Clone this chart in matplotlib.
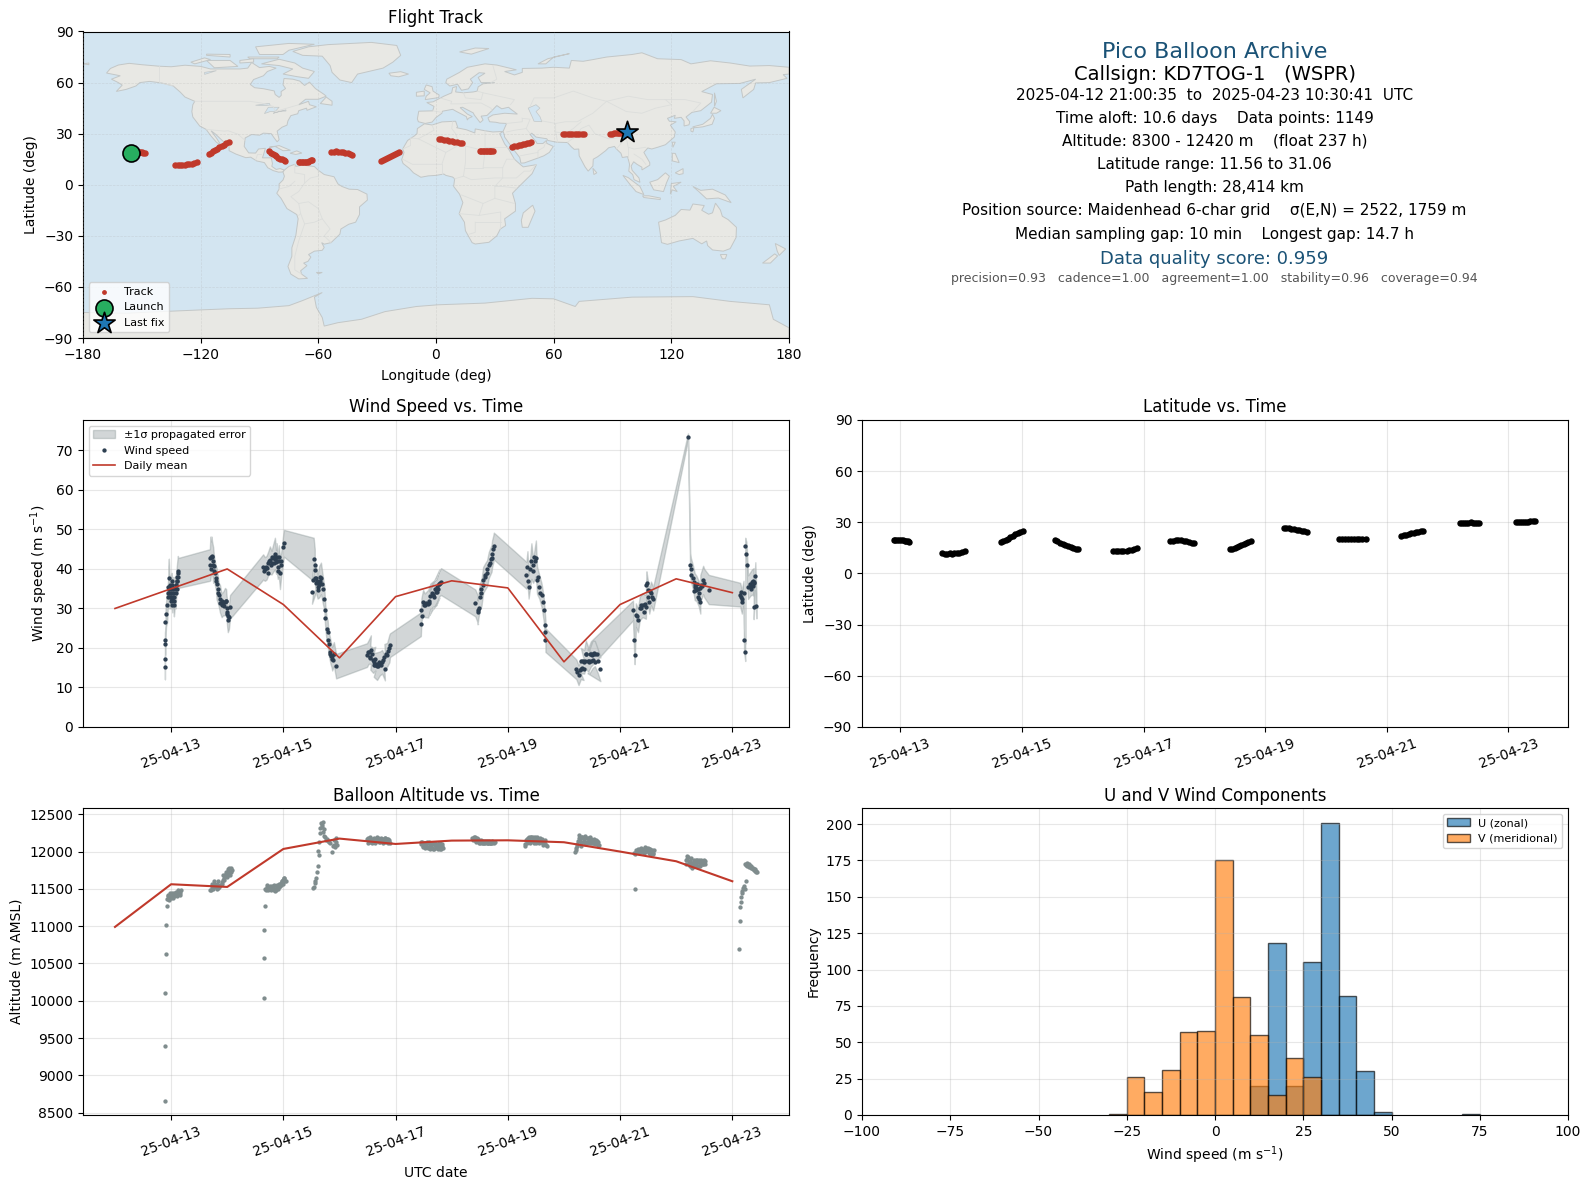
import datetime
import numpy as np
import matplotlib
matplotlib.use("Agg")
import matplotlib.pyplot as plt
import matplotlib.dates as mdates

# day-of-April (decimal) for every series
mean_days = [12, 13, 14, 15, 16, 17, 18, 19, 20, 21, 22, 23]
wind_mean = [30, 35, 40, 31, 17.5, 33, 37, 35.2, 16.5, 31, 37.5, 34]
alt_mean = [10990, 11562, 11526, 12035, 12174, 12102, 12147, 12151, 12125, 12000, 11870, 11602]

wind_t = [12.89, 12.89, 12.89, 12.90, 12.90, 12.91, 12.93, 12.94, 12.95, 12.95, 12.96, 12.97, 12.97, 12.98, 12.99,
          13.00, 13.00, 13.01, 13.02, 13.03, 13.04, 13.05, 13.06, 13.07, 13.08, 13.09, 13.10, 13.11, 13.12, 13.13,
          13.69, 13.70, 13.71, 13.72, 13.73, 13.75, 13.76, 13.78, 13.80, 13.81, 13.83, 13.85, 13.87, 13.90, 13.93,
          13.96, 13.98, 13.99, 14.00, 14.01, 14.03, 14.05,
          14.64, 14.67, 14.70, 14.73, 14.76, 14.79, 14.82, 14.85, 14.87, 14.88, 14.90, 14.92, 14.94, 14.96, 15.00, 15.01,
          15.54, 15.56, 15.56, 15.57, 15.53, 15.51, 15.58, 15.61, 15.64, 15.67, 15.70, 15.73, 15.74, 15.75, 15.77, 15.79,
          15.80, 15.81, 15.84, 15.86, 15.87, 15.90, 15.94,
          16.49, 16.52, 16.56, 16.55, 16.60, 16.64, 16.61, 16.67, 16.72, 16.76, 16.81, 16.80, 16.85, 16.89, 16.90,
          17.45, 17.46, 17.49, 17.52, 17.58, 17.62, 17.67, 17.73, 17.78, 17.60, 17.66, 17.72, 17.78, 17.81,
          18.42, 18.47, 18.46, 18.50, 18.53, 18.56, 18.59, 18.63, 18.66, 18.71, 18.72, 18.74, 18.75,
          19.33, 19.35, 19.37, 19.42, 19.45, 19.50, 19.52, 19.56, 19.60, 19.62, 19.64, 19.66, 19.67, 19.67,
          20.22, 20.26, 20.30, 20.35, 20.30, 20.36, 20.39, 20.45, 20.51, 20.55, 20.60, 20.65, 20.42, 20.48,
          21.23, 21.25, 21.26, 21.28, 21.32, 21.35, 21.40, 21.46, 21.47, 21.49, 21.52, 21.55, 21.59,
          22.21, 22.25, 22.26, 22.30, 22.33, 22.36, 22.40, 22.43, 22.43, 22.48, 22.50, 22.58,
          23.14, 23.17, 23.20, 23.21, 23.23, 23.23, 23.25, 23.26, 23.28, 23.32, 23.35, 23.38, 23.38, 23.41, 23.43]
wind_v = [15.1, 17.3, 20.9, 22, 26.5, 28.5, 31, 33, 34, 35.5, 37.6, 35.5, 34, 33, 35,
          33, 34, 36, 32.5, 33, 34, 31, 33, 35, 34, 36, 37, 38, 39.5, 39,
          41, 42.7, 43, 43.2, 43, 41, 40.8, 38.9, 37.6, 36.3, 35, 33.4, 32.5, 30.8, 31.3,
          31.7, 31.9, 30, 28.7, 27, 27.8, 30.4,
          40.5, 40, 40.3, 41.4, 42.2, 41.6, 42.8, 43.9, 41.8, 43, 40.5, 42, 38.9, 41, 45.6, 46.5,
          42.4, 41, 39.7, 37.8, 37.2, 34.2, 37.6, 35.5, 36.8, 37.6, 35, 32.5, 29.6, 27.5, 24.9, 24,
          22, 21.1, 19, 17.9, 17.3, 18.5, 15.4,
          18.2, 19, 19.6, 17.5, 16.9, 17.3, 15.7, 15.4, 16.1, 16.5, 14.8, 17.8, 18.3, 19.9, 20.7,
          26, 29.6, 31.7, 30.8, 31.2, 33.1, 33.4, 34.2, 36.3, 31.3, 33.4, 34.2, 36.3, 36.8,
          31.4, 29.6, 29, 33, 34, 37.2, 38, 38.9, 41, 42.7, 43.9, 45, 45.8,
          38.4, 40.5, 35.5, 42, 39.5, 42.7, 37.2, 35.5, 33.4, 31.7, 29.7, 25.8, 24.1, 22,
          14.6, 13.1, 14.6, 14.6, 16.8, 16.5, 18.4, 16.5, 18.4, 18.6, 16.8, 14.6, 16.6, 18.5,
          29.5, 22, 18.1, 28.3, 27, 30, 30.8, 30.4, 35.9, 34.6, 31.7, 33.8, 32.5,
          73.5, 41, 39.9, 37.8, 35.5, 35.1, 33.8, 31.7, 35.1, 37.2, 36.4, 34.8,
          33.5, 31.7, 33.8, 22, 18.9, 45.7, 43.9, 40.9, 35.4, 36.2, 36.7, 36.7, 30.3, 38.2, 30.7]
wind_e = [3, 3.5, 3, 3.5, 4, 3, 4.5, 3, 4, 5, 5, 3, 4, 3, 3.5,
          3, 4, 3, 3.5, 3, 4, 3, 3.5, 3, 4, 3, 3.5, 4, 3.8, 3.8,
          4, 5.5, 4, 5, 4, 4.5, 3, 3, 3, 4, 3.5, 3, 3.5, 3, 3,
          3.5, 3, 3, 3.5, 3, 3, 3,
          3.2, 3, 3, 3, 3.5, 3, 3.5, 4, 3, 3.5, 3, 4, 4, 3, 3.4, 3.4,
          5.5, 4, 3, 3, 3, 3, 3.5, 3, 4, 4, 3.5, 3, 3, 3, 3, 3,
          3, 3, 3, 2.8, 3, 3, 3.1,
          3, 3, 3.6, 3, 3.2, 3, 3, 3.5, 3, 3, 3, 3.2, 3, 3.5, 3,
          3, 3, 3, 3, 3.5, 3.2, 3.5, 3.2, 3.6, 3, 3, 3.5, 3.2, 3.4,
          3.4, 3.5, 3, 3.2, 3.4, 3.3, 3.3, 3.3, 3.3, 3.4, 3.4, 3.4, 3.4,
          3.4, 4, 3, 4.5, 3, 4.5, 3.5, 3, 3, 3, 3, 3, 3, 3,
          2.5, 2.5, 2.5, 2.7, 3.2, 3, 3.5, 3, 3.5, 3.2, 3, 3,
          3, 3.2,
          2.5, 3, 2.2, 3, 3, 3, 3, 3, 3.5, 3, 3, 3, 3,
          0.8, 3, 3, 3, 3.4, 3.2, 3.2, 3, 3.4, 3.6, 3.6, 3.7,
          3, 3, 3.2, 3, 2.2, 2.2, 3, 4, 3, 3, 3.2, 3.5, 3, 3.5, 3.2]
# further wind readings inside the dense clusters (dots only)
wind_more_t = [12.96, 12.98, 13.00, 13.01, 13.02, 13.04, 13.06, 13.08, 13.10, 13.11, 13.12,
               13.71, 13.74, 13.77, 13.80, 13.84, 13.88, 13.91, 13.94, 13.97, 14.00, 14.02,
               14.66, 14.69, 14.72, 14.75, 14.78, 14.80, 14.83, 14.84, 14.86, 14.89, 14.91, 14.93, 14.95,
               15.59, 15.60, 15.62, 15.63, 15.65, 15.66, 15.68, 15.83, 15.85, 15.88,
               16.50, 16.54, 16.58, 16.62, 16.63, 16.66, 16.69, 16.71, 16.74, 16.78, 16.83, 16.87,
               17.47, 17.50, 17.55, 17.60, 17.64, 17.68, 17.70, 17.74, 17.76, 17.80,
               18.48, 18.52, 18.55, 18.60, 18.62, 18.68, 18.70,
               19.36, 19.40, 19.44, 19.46, 19.48, 19.53, 19.58,
               20.24, 20.28, 20.32, 20.34, 20.38, 20.40, 20.44, 20.46, 20.48, 20.50, 20.52, 20.54, 20.56, 20.58,
               21.30, 21.37, 21.38, 21.42, 21.44, 21.48, 21.50, 21.53, 21.56,
               22.27, 22.31, 22.32, 22.34, 22.35, 22.37, 22.38, 22.39, 22.41, 22.44, 22.46,
               23.15, 23.16, 23.18, 23.33, 23.34, 23.36, 23.37, 23.39]
wind_more_v = [35, 36, 32, 37, 31, 35, 32, 36, 35, 37, 38,
               40, 42, 39.5, 37, 34, 31.5, 32, 30.5, 32, 29, 28,
               39.5, 40.6, 39, 42, 41, 43, 41.5, 43, 42.4, 42, 39.5, 43, 42,
               36.5, 37, 34.8, 36, 38, 37, 36.2, 18.5, 18, 17,
               19, 17.8, 18.5, 16.5, 15.7, 16, 15.5, 16.5, 15.8, 17, 18.6, 19.2,
               28, 31, 31.5, 32, 34, 33, 35, 35.5, 35, 36.5,
               30, 35, 36, 38.5, 40, 41.5, 42.5,
               37, 40, 41, 43, 42, 38, 34,
               13.8, 14.4, 15, 16.7, 16.6, 18.6, 16.7, 18.5, 16.6, 18.3, 16.9, 18.8, 16.5, 18.4,
               28, 31, 30.2, 29, 31.2, 36.5, 33, 34.5, 32.8,
               38.5, 36.8, 34.5, 36, 34.8, 36.2, 33, 35, 32.5, 36, 35.8,
               32.8, 34.2, 32.5, 35.7, 35, 37, 35.8, 36.4]

alt_t = [12.90, 12.90, 12.90, 12.91, 12.91, 12.92,
         12.93, 12.94, 12.95, 12.96, 12.97, 12.98, 12.99, 13.00, 13.02, 13.03, 13.04, 13.05, 13.07, 13.09, 13.11, 13.13, 13.14, 13.15, 13.16,
         13.70, 13.72, 13.74, 13.76, 13.78, 13.80, 13.82, 13.84, 13.86, 13.88, 13.90, 13.92, 13.94, 13.96, 13.98, 14.00, 14.02, 14.04, 14.06, 14.08,
         14.65, 14.66, 14.66, 14.67,
         14.68, 14.70, 14.72, 14.74, 14.77, 14.79, 14.81, 14.84, 14.86, 14.88, 14.90, 14.92, 14.94, 14.96, 14.98, 15.00, 15.02, 15.04,
         15.53, 15.56, 15.58, 15.60, 15.61, 15.63, 15.64, 15.66, 15.68, 15.70, 15.72, 15.74, 15.78, 15.82, 15.86, 15.90, 15.92, 15.94,
         16.49, 16.52, 16.55, 16.58, 16.60, 16.63, 16.66, 16.69, 16.72, 16.75, 16.78, 16.81, 16.84, 16.87, 16.90,
         17.45, 17.48, 17.51, 17.54, 17.57, 17.60, 17.63, 17.66, 17.69, 17.72, 17.75, 17.78, 17.81, 17.85,
         18.37, 18.40, 18.43, 18.46, 18.49, 18.52, 18.55, 18.58, 18.61, 18.64, 18.67, 18.70, 18.74, 18.78,
         19.30, 19.33, 19.36, 19.39, 19.42, 19.45, 19.48, 19.51, 19.54, 19.57, 19.60, 19.63, 19.66, 19.70,
         20.20, 20.22, 20.24, 20.26, 20.28, 20.30, 20.33, 20.36, 20.39, 20.42, 20.45, 20.48, 20.51, 20.55, 20.58, 20.62,
         21.26, 21.25, 21.28, 21.31, 21.34, 21.37, 21.40, 21.43, 21.46, 21.49, 21.52, 21.55, 21.58, 21.60,
         22.17, 22.20, 22.23, 22.26, 22.28, 22.31, 22.34, 22.37, 22.40, 22.43, 22.46, 22.48, 22.50, 22.52,
         23.12, 23.14, 23.14, 23.15, 23.16, 23.17, 23.19, 23.22, 23.24, 23.26, 23.29, 23.32, 23.35, 23.38, 23.41, 23.44,
         # denser readings inside the clusters
         12.94, 12.96, 12.98, 13.00, 13.01, 13.03, 13.06, 13.08, 13.10, 13.12, 13.15, 13.17,
         13.71, 13.73, 13.75, 13.77, 13.81, 13.83, 13.85, 13.91, 13.93, 13.95, 13.97, 13.99, 14.01, 14.03, 14.05, 14.07,
         14.69, 14.71, 14.73, 14.76, 14.78, 14.80, 14.83, 14.85, 14.87, 14.89, 14.91, 14.93, 14.95, 14.97, 14.99, 15.01, 15.03,
         15.54, 15.57, 15.62, 15.65, 15.67, 15.69, 15.71, 15.73, 15.76, 15.80, 15.84, 15.88, 15.91, 15.93, 15.95,
         16.50, 16.51, 16.53, 16.54, 16.56, 16.57, 16.59, 16.61, 16.62, 16.64, 16.65, 16.67, 16.68, 16.70, 16.71, 16.73, 16.74, 16.76, 16.77, 16.79, 16.80, 16.82, 16.83, 16.85, 16.86, 16.88, 16.89,
         17.46, 17.47, 17.49, 17.50, 17.52, 17.53, 17.55, 17.56, 17.58, 17.59, 17.61, 17.62, 17.64, 17.65, 17.67, 17.68, 17.70, 17.71, 17.73, 17.74, 17.76, 17.77, 17.79, 17.80, 17.82, 17.83,
         18.38, 18.39, 18.41, 18.42, 18.44, 18.45, 18.47, 18.48, 18.50, 18.51, 18.53, 18.54, 18.56, 18.57, 18.59, 18.60, 18.62, 18.63, 18.65, 18.66, 18.68, 18.69, 18.71, 18.72, 18.75, 18.76,
         19.31, 19.34, 19.35, 19.37, 19.38, 19.40, 19.41, 19.43, 19.44, 19.46, 19.47, 19.49, 19.50, 19.52, 19.53, 19.55, 19.56, 19.58, 19.59, 19.61, 19.62, 19.64, 19.65, 19.67, 19.68,
         20.21, 20.23, 20.25, 20.27, 20.29, 20.31, 20.32, 20.34, 20.35, 20.37, 20.38, 20.40, 20.41, 20.43, 20.44, 20.46, 20.47, 20.49, 20.50, 20.52, 20.53, 20.54, 20.56, 20.57, 20.59, 20.60, 20.61,
         21.27, 21.29, 21.30, 21.32, 21.33, 21.35, 21.36, 21.38, 21.39, 21.41, 21.42, 21.44, 21.45, 21.47, 21.48, 21.50, 21.51, 21.53, 21.54, 21.56, 21.57, 21.59,
         22.18, 22.19, 22.21, 22.22, 22.24, 22.25, 22.27, 22.29, 22.30, 22.32, 22.33, 22.35, 22.36, 22.38, 22.39, 22.41, 22.42, 22.44, 22.45, 22.47, 22.49, 22.51,
         23.18, 23.20, 23.23, 23.25, 23.27, 23.28, 23.30, 23.31, 23.33, 23.34, 23.36, 23.37, 23.39, 23.40, 23.42, 23.43]
alt_v = [8653, 9390, 10100, 10623, 11012, 11267,
         11370, 11400, 11360, 11390, 11380, 11420, 11395, 11400, 11430, 11400, 11420, 11440, 11420, 11440, 11430, 11450, 11460, 11470, 11440,
         11490, 11530, 11500, 11560, 11540, 11520, 11560, 11510, 11530, 11550, 11560, 11620, 11650, 11680, 11700, 11720, 11760, 11720, 11780, 11750,
         10034, 10570, 10945, 11267,
         11500, 11530, 11520, 11530, 11510, 11540, 11530, 11490, 11500, 11530, 11520, 11560, 11540, 11580, 11600, 11620, 11650, 11610,
         11508, 11575, 11640, 11730, 11807, 11955, 12130, 12310, 12357, 12400, 12300, 12200, 12170, 12130, 12000, 12090, 12060, 12130,
         12170, 12130, 12190, 12120, 12175, 12150, 12190, 12160, 12135, 12175, 12155, 12185, 12140, 12170, 12110,
         12130, 12060, 12120, 12100, 12050, 12130, 12090, 12040, 12110, 12060, 12080, 12110, 12040, 12050,
         12180, 12190, 12140, 12170, 12130, 12150, 12120, 12130, 12130, 12120, 12130, 12120, 12125, 12130,
         12100, 12150, 12180, 12130, 12200, 12160, 12190, 12140, 12170, 12180, 12130, 12120, 12160, 12080,
         12000, 12050, 12100, 12220, 12150, 12110, 12190, 12170, 12120, 12180, 12150, 12170, 12110, 12130, 12140, 12090,
         11495, 11980, 12000, 12010, 11990, 12030, 12010, 11980, 12050, 12020, 12040, 12000, 11980, 12020,
         11890, 11940, 11860, 11910, 11790, 11870, 11830, 11890, 11810, 11860, 11880, 11830, 11890, 11870,
         10690, 11066, 11262, 11330, 11396, 11440, 11510, 11500, 11600, 11852, 11830, 11810, 11780, 11770, 11740, 11722,
         11420, 11350, 11440, 11380, 11450, 11380, 11400, 11460, 11410, 11480, 11420, 11490,
         11490, 11560, 11520, 11600, 11500, 11600, 11540, 11590, 11680, 11620, 11720, 11660, 11690, 11780, 11690, 11730,
         11480, 11550, 11490, 11540, 11480, 11510, 11550, 11470, 11490, 11550, 11500, 11530, 11550, 11600, 11570, 11650, 11600,
         11530, 11610, 12010, 12250, 12380, 12330, 12260, 12210, 12150, 12140, 12120, 12070, 12150, 12180, 12090,
         12120, 12180, 12150, 12170, 12130, 12160, 12170, 12130, 12180, 12120, 12170, 12140, 12180, 12130, 12170, 12130, 12180, 12150, 12120, 12170, 12130, 12180, 12130, 12170, 12120, 12150, 12130,
         12100, 12130, 12070, 12120, 12050, 12110, 12070, 12130, 12060, 12110, 12040, 12080, 12120, 12050, 12100, 12040, 12090, 12120, 12050, 12100, 12040, 12070, 12110, 12040, 12070, 12100,
         12150, 12170, 12190, 12160, 12130, 12180, 12160, 12120, 12140, 12120, 12140, 12110, 12140, 12120, 12110, 12140, 12120, 12140, 12110, 12140, 12120, 12110, 12140, 12120, 12110, 12130,
         12080, 12120, 12170, 12190, 12150, 12120, 12200, 12140, 12190, 12110, 12180, 12150, 12110, 12190, 12130, 12170, 12110, 12150, 12130, 12170, 12090, 12140, 12120, 12100, 12090,
         12020, 12080, 12140, 12180, 12190, 12080, 12200, 12130, 12180, 12100, 12210, 12130, 12180, 12120, 12170, 12110, 12190, 12120, 12160, 12110, 12170, 12130, 12100, 12150, 12110, 12130, 12080,
         11970, 12020, 11990, 12030, 11980, 12040, 12000, 12050, 11990, 12040, 12010, 12060, 11990, 12040, 12010, 12050, 11980, 12030, 11970, 12020, 11990, 11970,
         11840, 11900, 11930, 11840, 11880, 11810, 11850, 11780, 11830, 11890, 11800, 11850, 11890, 11800, 11860, 11890, 11800, 11840, 11890, 11830, 11870, 11830,
         11470, 11540, 11840, 11820, 11800, 11820, 11790, 11810, 11780, 11800, 11760, 11780, 11750, 11770, 11730, 11740]

lat_t = [12.89, 12.92, 12.95, 12.98, 13.01, 13.04, 13.07, 13.10, 13.12, 13.14,
         13.69, 13.73, 13.77, 13.81, 13.85, 13.89, 13.93, 13.97, 14.02, 14.06,
         14.65, 14.69, 14.73, 14.77, 14.81, 14.85, 14.89, 14.93, 14.97, 15.01,
         15.54, 15.58, 15.62, 15.67, 15.71, 15.75, 15.80, 15.84, 15.89, 15.93,
         16.49, 16.54, 16.58, 16.63, 16.67, 16.72, 16.76, 16.81, 16.85, 16.90,
         17.44, 17.48, 17.53, 17.57, 17.61, 17.66, 17.70, 17.74, 17.79, 17.83,
         18.42, 18.46, 18.50, 18.53, 18.57, 18.61, 18.65, 18.69, 18.72, 18.76,
         19.31, 19.35, 19.39, 19.43, 19.47, 19.52, 19.56, 19.60, 19.64, 19.68,
         20.22, 20.27, 20.32, 20.37, 20.41, 20.46, 20.51, 20.55, 20.60, 20.65,
         21.24, 21.28, 21.32, 21.36, 21.40, 21.44, 21.48, 21.52, 21.56, 21.60,
         22.20, 22.24, 22.27, 22.31, 22.34, 22.38, 22.41, 22.45, 22.48, 22.52,
         23.12, 23.15, 23.19, 23.22, 23.26, 23.29, 23.33, 23.36, 23.40, 23.43]
lat_v = [19.6, 19.6, 19.5, 19.6, 19.5, 19.4, 19.3, 19.0, 18.8, 18.6,
         11.8, 11.7, 11.6, 11.8, 11.6, 11.9, 12.0, 12.3, 12.6, 13.1,
         18.2, 18.9, 19.7, 20.4, 21.2, 22.0, 22.9, 23.6, 24.4, 25.1,
         19.6, 18.8, 18.1, 17.4, 16.7, 16.0, 15.4, 14.9, 14.4, 14.1,
         13.3, 13.3, 13.2, 13.3, 13.4, 13.4, 13.6, 14.0, 14.3, 14.7,
         19.0, 19.3, 19.6, 19.5, 19.4, 19.2, 18.9, 18.6, 18.1, 17.6,
         14.1, 14.6, 15.2, 15.7, 16.2, 16.8, 17.4, 18.0, 18.7, 19.2,
         26.7, 26.6, 26.4, 26.2, 25.9, 25.6, 25.3, 25.0, 24.7, 24.5,
         20.0, 20.1, 20.0, 20.0, 20.1, 20.0, 20.0, 20.1, 20.0, 20.0,
         22.2, 22.5, 22.8, 23.2, 23.5, 23.9, 24.2, 24.5, 24.8, 25.1,
         29.7, 29.9, 29.8, 29.9, 29.9, 30.0, 29.9, 29.9, 29.9, 29.9,
         30.0, 30.0, 30.1, 30.2, 30.3, 30.3, 30.4, 30.7, 30.9, 31.06]
track_lon = [-155.6, -154.8, -154.0, -153.2, -152.4, -151.6, -150.8, -150.0, -149.2, -148.6,
             -133.0, -131.8, -130.6, -129.3, -128.1, -126.9, -125.7, -124.5, -123.2, -122.0,
             -116.0, -114.9, -113.8, -112.6, -111.5, -110.4, -109.2, -108.1, -106.9, -105.7,
             -85.0, -84.1, -83.2, -82.3, -81.4, -80.5, -79.6, -78.7, -77.7, -76.8,
             -70.0, -69.2, -68.4, -67.7, -66.9, -66.1, -65.3, -64.6, -63.8, -63.0,
             -53.4, -52.2, -51.0, -49.8, -48.6, -47.4, -46.2, -45.0, -43.8, -42.6,
             -28.0, -27.0, -26.0, -25.0, -24.0, -23.0, -22.0, -21.0, -20.0, -19.0,
             1.5, 2.8, 4.1, 5.5, 6.8, 8.1, 9.4, 10.8, 12.1, 13.4,
             22.5, 23.2, 23.9, 24.7, 25.4, 26.1, 26.8, 27.6, 28.3, 29.0,
             39.0, 40.0, 41.1, 42.1, 43.1, 44.2, 45.2, 46.2, 47.3, 48.3,
             64.7, 65.9, 67.1, 68.3, 69.5, 70.7, 71.9, 73.1, 74.3, 75.5,
             88.8, 89.7, 90.7, 91.6, 92.6, 93.5, 94.4, 95.4, 96.3, 97.3]
launch_pos = (-155.6, 18.9)
last_pos = (97.5, 31.06)

hist_edges = [-30, -25, -20, -15, -10, -5, 0, 5, 10, 15, 20, 25, 30, 35, 40, 45, 70]
u_counts = [0, 0, 0, 0, 0, 0, 0, 0, 20, 118, 20, 105, 201, 82, 30, 2, 1]
v_counts = [1, 26, 16, 31, 57, 58, 175, 81, 55, 14, 39, 26, 0, 0, 0, 0, 0]

# rough outlines, (lon, lat)
north_america = [(-168,65.6),(-166,68.3),(-162,70.3),(-156.5,71.3),(-150,70.5),(-141,69.6),(-135,69.3),(-128,70.2),(-120,69.5),(-115,68),(-108,68),(-100,68),(-96,68.5),(-94,71.8),(-90,68.8),(-85,69.5),(-81.5,68.5),(-86,66.5),(-88,64),(-93,61.8),(-94.7,58.9),(-92.5,57),(-88,56.4),(-82.5,55.1),(-82,53),(-80,51.3),(-78.9,52.5),(-79,54.7),(-76.7,56.5),(-78,58.7),(-77.5,62.4),(-73,62),(-69.5,60.9),(-67,58.3),(-64.5,60.3),(-61.5,56.5),(-57,53),(-56,52),(-60,50.2),(-66.5,50.2),(-70,47),(-65,49),(-64.5,47),(-61,45.8),(-65.8,43.7),(-66,45),(-70,43.5),(-70.5,41.7),(-74,40.6),(-75.5,37.5),(-76,35),(-78.5,33.8),(-81,31.5),(-80,26.5),(-81,25.2),(-82.7,27.8),(-84,30),(-88,30.3),(-90,29.1),(-94,29.5),(-97.3,27.5),(-97.8,22.5),(-95.5,18.7),(-92,18.6),(-90.5,21),(-87,21.4),(-88,17.5),(-88.5,15.8),(-84,15.8),(-83.4,12.5),(-83.7,10.8),(-81.5,9),(-79.5,9.5),(-77.3,8.6),(-78.2,7.5),(-80.3,7.4),(-83,8.3),(-85.8,10),(-87.5,13),(-91.5,14),(-94.5,16.2),(-97,15.9),(-102,18),(-105.5,20),(-105.5,22.5),(-109,26),(-112.7,30),(-114.7,31.7),(-112,27.5),(-109.5,23),(-112,25),(-115,29),(-117.2,32.5),(-120.5,34.5),(-124,39.8),(-124.5,43),(-124,47),(-123,49),(-128,51.5),(-130.5,54.5),(-134,58),(-140,59.8),(-146,60.7),(-151,60),(-153,58),(-158,56),(-163,54.8),(-160,58.5),(-162,60),(-165.5,62),(-161,64),(-168,65.6)]
south_america = [(-77.3,8.6),(-75,10.8),(-72,12),(-71.5,10.8),(-68,11.5),(-62,10.7),(-60,8.5),(-57,6),(-52,4.7),(-50,0.5),(-48,-1),(-44.3,-2.6),(-40,-2.8),(-35.2,-5.5),(-35,-9),(-39,-13),(-39,-17.5),(-41,-22),(-44.5,-23.2),(-48.5,-26),(-49,-29),(-53.5,-34),(-57,-34.9),(-58.3,-34),(-57,-36.8),(-58,-38.5),(-62,-39),(-65,-41),(-63.8,-42.5),(-65.3,-45),(-67.5,-46),(-65.8,-47.5),(-69,-50.5),(-68.5,-52.5),(-65.5,-55),(-70,-55.3),(-74,-52.5),(-75.5,-48),(-73.5,-42),(-73.5,-37),(-71.5,-30),(-70.3,-20),(-71,-17.5),(-76,-14),(-79,-8),(-81.2,-5),(-80,-2.5),(-80,0.5),(-78,2.8),(-77.3,5),(-78,7.5)]
africa = [(-5.9,35.8),(-2,35.1),(3,36.9),(10,37.3),(11,34),(10.5,33.5),(15.5,32.3),(19.8,30.4),(20,32.8),(25,31.7),(29,31),(32.5,31.2),(34.2,31.3),(32.5,30),(35,24),(37,21),(38.5,18),(40,15),(43.2,11.7),(44.5,10.5),(51.2,11.8),(49,6.5),(45,2),(41.5,-2),(39,-5),(40.5,-11),(40.5,-15.5),(35,-20),(35.5,-24),(32.8,-26),(31,-30),(27,-33.8),(20,-34.8),(18.4,-34),(15,-27),(14.5,-22),(11.8,-17),(13.7,-10.5),(12,-5.5),(9,-1),(9.5,3.5),(8.5,4.5),(5,5.5),(4,6.3),(0,5.5),(-4,5.2),(-7.7,4.4),(-11.5,7),(-13.5,9.5),(-16.8,12.5),(-17.5,14.7),(-16.3,19),(-17,21),(-14.5,26),(-11,28.7),(-9.7,30),(-9.5,33)]
eurasia = [(-5.5,36),(-9,37),(-9.5,38.7),(-8.8,43.2),(-1.7,43.4),(-1,46),(-4.7,48.3),(-1.5,48.7),(1.5,50.5),(4,52),(8,54),(8.5,57),(10.5,57.7),(10,54.5),(14,54),(19,54.5),(21,55),(21.5,57.5),(24,59.3),(30,60),(23,60),(21.5,63),(25,65.5),(22,65.8),(17.5,62),(18.7,60),(16.5,56.3),(13,55.5),(11,59),(7,58),(5,60),(5.5,62),(12,66),(16,69),(25,71),(31,70.3),(41,67.5),(35,66.5),(40,64.5),(44,66),(44,68.3),(54,68.5),(60,69),(68,68.5),(69,73),(75,72.5),(80,73.5),(87,75),(100,76.5),(105,77.5),(113,74),(125,73.5),(130,71),(140,72.8),(150,71.5),(160,69.7),(170,70),(180,69),(180,65),(177,64.7),(179,62.5),(170,60),(163,59.8),(162,56),(156.5,51),(155.7,56),(163,62),(155,59.5),(143,59.3),(135.5,54.7),(141,53),(140.5,48.5),(135,43.5),(130.5,42.5),(127.5,39.8),(129.4,37),(129,35.2),(126.5,34.5),(126.5,37.5),(125,39.6),(121.5,39),(122,40.8),(118,39),(119,37.3),(122.5,37),(119.5,35),(122,31),(121.5,28),(117,23.5),(113,22),(110,21),(108,21.6),(106,19),(109,13),(109,11.5),(105,8.7),(105,10.3),(102.5,12),(100.8,13.5),(99.5,11),(100,8.5),(103.5,4),(104,1.4),(101,3),(100.3,6),(98.3,8),(98.7,12),(97.7,16.5),(95,16),(94.3,18.5),(92,21),(91,22.5),(88,21.7),(86.5,20),(82.5,16.5),(80.2,15),(80,11),(77.6,8),(76,10.5),(73,17),(72.8,21),(70.5,20.8),(69,22.3),(67,24.8),(61.5,25),(57,26),(56.5,27),(51,28),(48.8,30.3),(48,29.5),(51.2,25),(51.5,24.2),(54.5,24.2),(56.3,26),(56.5,24.3),(59.8,22.5),(57.8,19),(55,17),(52,15.7),(45,12.8),(43.3,12.7),(42.7,16),(39,21.5),(35,28),(34.8,29.5),(34.2,31.3),(36,36),(32.5,36.2),(30.5,36.7),(27.3,37),(26.5,39.3),(29,41),(35,42),(41.5,41.5),(38,44.5),(37,45.5),(33.5,44.6),(31,46.5),(28.5,43.5),(26,40.7),(23,40.3),(24,38),(22.5,36.5),(19.5,41),(19,42.2),(13.5,45.5),(12.3,45.3),(16,41.5),(18.5,40),(16.5,39),(16,38),(15.5,40),(10.5,43),(8.5,44.3),(3.3,43.2),(3,42),(0,39.5),(-2,36.8)]
australia = [(113.5,-22),(114,-26),(115,-34),(118,-35),(124,-33),(131,-31.5),(135.5,-34.7),(138,-33),(138.5,-35.7),(141,-38.3),(146.5,-39),(150,-37.5),(153,-31),(153.2,-25),(149,-20.5),(146,-18.5),(145,-14.8),(142.5,-10.8),(141,-16.5),(139,-17.3),(135.5,-15),(136.8,-12.2),(131,-11.3),(129.5,-14.9),(125,-14.5),(122,-18),(117,-20.7)]
antarctica = [(-180,-75),(-158,-75.5),(-150,-75),(-120,-73.5),(-105,-72.8),(-91,-72.5),(-75,-71),(-68,-68),(-58,-63.3),(-62,-66),(-61,-72),(-58,-78),(-57,-83),(-50,-81),(-38,-79),(-26,-74.5),(-10,-71.5),(1,-70.5),(25,-69.5),(49,-66.7),(60,-67),(71,-71.5),(73,-68.5),(100,-66),(131,-65.7),(150,-68.5),(170,-70.5),(172,-79),(180,-84),(180,-90),(-180,-90)]
greenland = [(-73,78.3),(-65,81),(-55,82.3),(-33,83.6),(-20,81.8),(-18,76),(-22,72),(-27,68.5),(-40,65),(-43,60),(-49,61.5),(-53,66),(-54,70),(-58,75.5),(-68,76)]
small_islands = [
    [(-80,73.7),(-72,71.5),(-68,68.5),(-62,66.5),(-65,62.5),(-71,63.5),(-78,65),(-73,68),(-80,70),(-89,71)],
    [(-117,73),(-105,73),(-101,69.5),(-113,68.7)],
    [(-90,76.5),(-78,76.5),(-75,79),(-62,82.5),(-75,83),(-92,81)],
    [(-125,72),(-118,74.5),(-115,73.5),(-123,71)],
    [(-117,76),(-105,75),(-105,76.5),(-117,76.7)],
    [(-96,75),(-80,75),(-81,74),(-95,74)],
    [(-100,73),(-93,74),(-93,72),(-100,71.5)],
    [(-59,47.7),(-53,46.7),(-53,49),(-56,51.5)],
    [(-85,22),(-80,23),(-74.2,20.2),(-78,20),(-82,22.5)],
    [(-74.4,18.5),(-71,19.9),(-68.4,18.6),(-71.5,17.8)],
    [(-5.5,50),(1.4,51.2),(1.6,52.7),(-1.5,55),(-2,57.6),(-5,58.6),(-6,56),(-3,54),(-5,52)],
    [(-10,52),(-6,52.2),(-6,55),(-10,54.3)],
    [(-24,65.5),(-18,66.4),(-14,65),(-19,63.4),(-23,64)],
    [(12,78),(20,80.3),(27,80),(18,76.7)],
    [(52,71),(57,74),(68,77),(60,75),(56,71)],
    [(49.3,-12),(50.5,-15.5),(47,-25),(44,-25),(43.5,-21),(44.5,-16.5)],
    [(80,9.7),(82,7),(80.5,6)],
    [(130.9,34),(136,35.5),(140,39),(141,41.4),(142,39),(140.8,35.5),(136,34),(132,33.5)],
    [(130,33),(131.5,33.5),(131,31),(130,31.5)],
    [(140,42),(141.8,45.5),(145.3,43.5),(143,42)],
    [(142,54),(143,49),(142,46),(142,50)],
    [(120.5,25),(122,25),(120.8,22)],
    [(120.5,18.5),(122,18.4),(124,13),(120.5,14)],
    [(122,7),(126,9.5),(126,6.5),(124,6)],
    [(109,1.5),(113,3),(117,7),(119,5),(117.5,1),(116,-4),(111,-3)],
    [(95.3,5.5),(98,4.2),(104,-1),(106,-5.8),(102,-4),(98.7,0.5)],
    [(105.3,-6.5),(108.5,-6.5),(114.4,-7.8),(114.4,-8.7),(106,-7.5)],
    [(119.5,-5.5),(120,0.7),(125,1.5),(121,-1),(123,-4),(120.5,-3)],
    [(131,-1),(135,-3.3),(141,-2.6),(147.5,-6),(150.5,-10.5),(144,-7.8),(138,-8.3),(134,-4)],
    [(145,-41),(148.3,-41),(147.5,-43.5),(146,-43.5)],
    [(173,-34.5),(178.3,-37.7),(175,-41.5),(174,-39)],
    [(172.7,-40.6),(174.2,-41.8),(170.5,-46),(166.5,-46),(170,-43)],
    [(-61,-51.5),(-58,-51.5),(-60,-52.3)],
    [(-180,71),(-177,71.5),(-177,70.5)],
]
inland_water = [
    [(47,45),(51,47),(53,45),(51,43),(53,40),(54,37),(50,37.3),(49,40)],
    [(-92,46.7),(-85,47.8),(-84.5,46.5),(-88,46.5)],
    [(-87.5,41.8),(-85.5,45.5),(-80,45.5),(-82,43),(-84.5,43)],
    [(-83,42),(-76.5,44),(-76.5,43.3),(-79.5,43.2)],
    [(-118,66),(-112,67),(-118,64.8)],
]
borders = [
    [(-141,69.6),(-141,60),(-134,58)],
    [(-123,49),(-95,49),(-89,48),(-83,46),(-82,43),(-76,45),(-70,47)],
    [(-117,32.5),(-108,31.5),(-106,31.7),(-101,29.7),(-97.3,26)],
    [(-92,14.5),(-91,17.8),(-89,17.8)],
    [(-72,12),(-72,7),(-67,6),(-67,1),(-70,-4),(-74,-7),(-70,-11),(-69,-17),(-70,-18)],
    [(-60,8.5),(-60,5),(-64,4),(-67,1)],
    [(-70,-11),(-65,-10),(-60,-14),(-58,-20),(-54,-26),(-57,-30),(-53.5,-34)],
    [(-69,-17),(-67,-23),(-70,-33),(-72,-42),(-72,-50),(-68.5,-52.5)],
    [(-58,-20),(-62,-22),(-67,-23)],
    [(-80,-2.5),(-75,-1),(-72,2)],
    [(-2,35.1),(-1,32),(-9,27),(-13,27.5),(-13,23),(-17,21)],
    [(-9,27),(5,19),(12,23.5),(10,30),(8,33),(8.5,37)],
    [(12,23.5),(25,20),(25,31.7)],
    [(25,22),(37,22)],
    [(25,20),(24,10),(34,10),(36,15),(40,15)],
    [(5,19),(3,12),(-12,12),(-17,15)],
    [(3,12),(3,6.3)],
    [(15,23),(15,13),(14,5),(9.5,3.5)],
    [(24,10),(15,10)],
    [(14,5),(18,3),(30,4),(34,4),(41,4),(45,8),(48,8),(51,11.8)],
    [(34,10),(34,4),(30,-1),(30,-8),(24,-11),(13,-6)],
    [(41,-2),(34,-1),(30,-1)],
    [(30,-8),(40,-11)],
    [(24,-11),(22,-18),(12,-17)],
    [(22,-18),(33,-16),(33,-22),(32.8,-26)],
    [(20,-22),(20,-28),(17,-29)],
    [(20,-22),(28,-22),(33,-22)],
    [(2,51),(8,49),(7.5,47.5),(13,47.5),(17,48),(23,48),(28,45),(28.5,43.5)],
    [(-1.7,43.4),(3,42.5)],
    [(14,54),(15,51),(23,50),(24,54),(21,55)],
    [(24,54),(32,52),(40,50),(38,47)],
    [(28,60),(31,62),(29,70)],
    [(48,46),(50,51),(60,51),(70,55),(80,51),(87,49),(98,52),(108,50),(117,50),(127,50),(135,48),(131,43)],
    [(87,49),(97,43),(105,42),(112,45),(120,47),(117,50)],
    [(54,37.5),(61,36),(66,37),(72,37),(80,42),(87,49)],
    [(44,39),(48,38.5),(46,33),(48,30)],
    [(36,36),(44,37),(44,39)],
    [(46,33),(40,32),(36,31)],
    [(61,36),(61,31),(62,25)],
    [(61,31),(66,30),(70,33),(74,37)],
    [(67,25),(71,28),(74,33),(78,35),(81,30),(88,27),(97,28),(92,21)],
    [(97,28),(98,22),(101,21),(107,22)],
    [(98,22),(98,16)],
    [(101,18),(105,15),(107,12)],
    [(52,16),(52,20),(55,22),(56,25)],
    [(43,17),(52,19)],
]

dpi = 100
fig = plt.figure(figsize=(15.89, 11.89), dpi=dpi)
W, H = 1589.0, 1189.0


def px_axes(left, right, top, bottom):
    return fig.add_axes([left / W, 1 - bottom / H, (right - left) / W, (bottom - top) / H])


def to_num(days):
    base = mdates.date2num(datetime.datetime(2025, 4, 1))
    return base + np.array(days, dtype=float) - 1


def date_axis(ax, x0, x1):
    ax.set_xlim(to_num([x0, x1]))
    ax.xaxis.set_major_locator(mdates.DayLocator(bymonthday=range(1, 32, 2)))
    ax.xaxis.set_major_formatter(mdates.DateFormatter("%y-%m-%d"))
    ax.tick_params(axis="x", labelrotation=20)
    ax.grid(True, alpha=0.3)


# Flight track
ax = px_axes(83, 789, 31.5, 338)
ax.set_facecolor("#d3e5f1")
land = [north_america, south_america, africa, eurasia, australia, antarctica, greenland] + small_islands
for poly in land:
    ax.fill(*zip(*poly), facecolor="#e8e8e4", edgecolor="#c3c7c7", lw=0.7, zorder=1)
for poly in inland_water:
    ax.fill(*zip(*poly), facecolor="#d3e5f1", edgecolor="#c3c7c7", lw=0.5, zorder=1.1)
for line in borders:
    ax.plot(*zip(*line), color="#dcdedc", lw=0.6, zorder=1.2)
ax.grid(True, alpha=0.3, ls="--", lw=0.5, zorder=1.5)
ax.set_axisbelow(False)
ax.scatter(track_lon, lat_v, s=13, color="#c0392b", zorder=3)
ax.scatter([], [], s=6, color="#c0392b", label="Track")
ax.scatter(*launch_pos, s=150, color="#27ae60", edgecolor="black", lw=1.2, label="Launch", zorder=4)
ax.scatter(*last_pos, s=260, marker="*", color="#1f77b4", edgecolor="black", lw=1.2, label="Last fix", zorder=5)
ax.set_xlim(-180, 180)
ax.set_ylim(-90, 90)
ax.set_xticks(range(-180, 181, 60))
ax.set_yticks(range(-90, 91, 30))
ax.set_xlabel("Longitude (deg)", labelpad=5)
ax.set_ylabel("Latitude (deg)")
ax.set_title("Flight Track")
ax.legend(loc="lower left", fontsize=8)

# summary text
info_x = 1214.5 / W
info = [
    (52.5, "Pico Balloon Archive", 16, "#1a5276"),
    (75, "Callsign: KD7TOG-1   (WSPR)", 14, "black"),
    (95.5, "2025-04-12 21:00:35  to  2025-04-23 10:30:41  UTC", 11, "black"),
    (118.5, "Time aloft: 10.6 days    Data points: 1149", 11, "black"),
    (141.5, "Altitude: 8300 - 12420 m    (float 237 h)", 11, "black"),
    (164.5, "Latitude range: 11.56 to 31.06", 11, "black"),
    (187.5, "Path length: 28,414 km", 11, "black"),
    (211, "Position source: Maidenhead 6-char grid    \u03c3(E,N) = 2522, 1759 m", 11, "black"),
    (234.5, "Median sampling gap: 10 min    Longest gap: 14.7 h", 11, "black"),
    (259, "Data quality score: 0.959", 13, "#1a5276"),
    (279, "precision=0.93   cadence=1.00   agreement=1.00   stability=0.96   coverage=0.94", 9, "#555555"),
]
for y, s, size, col in info:
    fig.text(info_x, 1 - y / H, s, fontsize=size, color=col, ha="center", va="center")

# wind speed
ax = px_axes(83, 789, 420, 727)
t = to_num(wind_t)
v = np.array(wind_v)
e = np.array(wind_e)
ax.fill_between(t, v - e, v + e, color="#7f8c8d", alpha=0.35, label="\u00b11\u03c3 propagated error")
ax.plot(t, v, "o", ms=2.1, color="#2c3e50", label="Wind speed")
ax.plot(to_num(wind_more_t), wind_more_v, "o", ms=2.1, color="#2c3e50")
ax.plot(to_num(mean_days), wind_mean, color="#c0392b", lw=1.2, label="Daily mean")
ax.set_ylim(0, 77.7)
ax.set_ylabel("Wind speed (m s$^{-1}$)")
ax.set_title("Wind Speed vs. Time")
ax.legend(loc="upper left", fontsize=8)
date_axis(ax, 11.43, 24.01)

# latitude
ax = px_axes(862, 1568, 420, 727)
ax.plot(to_num(lat_t), lat_v, "o", ms=3.6, color="black")
ax.set_ylim(-90, 90)
ax.set_yticks(range(-90, 91, 30))
ax.set_ylabel("Latitude (deg)")
ax.set_title("Latitude vs. Time")
date_axis(ax, 12.37, 23.98)

# altitude
ax = px_axes(83, 789, 808, 1115)
ax.plot(to_num(alt_t), alt_v, "o", ms=2.1, color="#7f8c8d")
ax.plot(to_num(mean_days), alt_mean, color="#c0392b", lw=1.5)
ax.set_ylim(8469, 12584)
ax.set_yticks(range(8500, 12501, 500))
ax.set_xlabel("UTC date", labelpad=5)
ax.set_ylabel("Altitude (m AMSL)")
ax.set_title("Balloon Altitude vs. Time", pad=5)
date_axis(ax, 11.43, 24.01)

# histogram
ax = px_axes(862, 1568, 808, 1115)
ax.bar(hist_edges, u_counts, width=5, align="edge", color="tab:blue", alpha=0.65, edgecolor="black", label="U (zonal)")
ax.bar(hist_edges, v_counts, width=5, align="edge", color="tab:orange", alpha=0.65, edgecolor="black", label="V (meridional)")
ax.set_xlim(-100, 100)
ax.set_ylim(0, 211)
ax.set_xticks(range(-100, 101, 25))
ax.set_yticks(range(0, 201, 25))
ax.set_xlabel("Wind speed (m s$^{-1}$)")
ax.set_ylabel("Frequency")
ax.set_title("U and V Wind Components", pad=5)
ax.grid(True, alpha=0.3)
ax.legend(loc="upper right", fontsize=8)

fig.savefig("out.png", dpi=dpi)
